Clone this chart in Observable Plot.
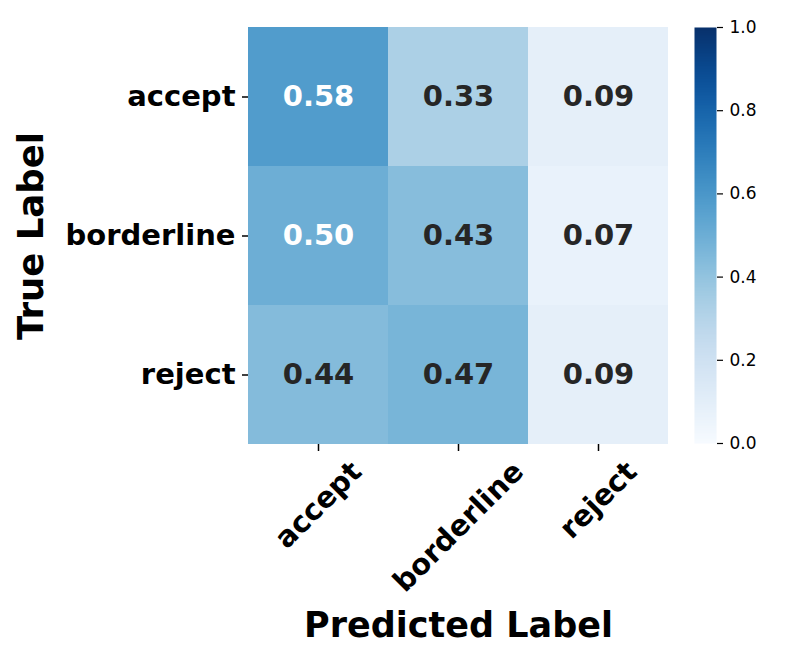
<!DOCTYPE html>
<html>
<head>
<meta charset="utf-8">
<script src="https://cdn.jsdelivr.net/npm/d3@7"></script>
<script src="https://cdn.jsdelivr.net/npm/@observablehq/plot@0.6"></script>
<style>
  html, body { margin: 0; padding: 0; background: #fff; }
  #wrap { position: relative; width: 793px; height: 661px; font-family: "DejaVu Sans", sans-serif; }
  #wrap svg { position: absolute; top: 0; }
</style>
</head>
<body>
<div id="wrap"></div>
<script>
// ---- data ----
const predictedLabels = ["accept", "borderline", "reject"];
const trueLabels = ["accept", "borderline", "reject"];
const rowAccept = [0.58, 0.33, 0.09];
const rowBorderline = [0.50, 0.43, 0.07];
const rowReject = [0.44, 0.47, 0.09];
const colorbarTicks = [0.0, 0.2, 0.4, 0.6, 0.8, 1.0];
const xTitle = "Predicted Label";
const yTitle = "True Label";

const rows = [rowAccept, rowBorderline, rowReject];
const table = [];
trueLabels.forEach((t, i) => predictedLabels.forEach((p, j) => table.push({truth: t, pred: p, value: rows[i][j]})));

const FONT = "DejaVu Sans";
function textColor(v) {
  const c = d3.rgb(d3.interpolateBlues(v));
  const lin = x => { x /= 255; return x <= 0.03928 ? x / 12.92 : Math.pow((x + 0.055) / 1.055, 2.4); };
  const lum = 0.2126 * lin(c.r) + 0.7152 * lin(c.g) + 0.0722 * lin(c.b);
  return lum > 0.408 ? "#262626" : "white";
}

// measure tick label widths for rotated x labels
const ctx = document.createElement("canvas").getContext("2d");
ctx.font = `bold 29px "${FONT}"`;

const xLabelMarks = predictedLabels.map(lbl => {
  const w = ctx.measureText(lbl).width;
  return Plot.text([lbl], {
    x: d => d, frameAnchor: "bottom", rotate: -45,
    textAnchor: "middle", lineAnchor: "middle",
    dy: 16 + (w + 18) * 0.3536,
    fontSize: 29, fontWeight: "bold", fill: "black"
  });
});

const main = Plot.plot({
  width: 793, height: 661,
  marginLeft: 248, marginRight: 125, marginTop: 27, marginBottom: 217,
  style: { fontFamily: FONT, background: "transparent" },
  x: { domain: predictedLabels, padding: 0, axis: null },
  y: { domain: trueLabels, padding: 0, axis: null },
  color: { type: "linear", scheme: "blues", domain: [0, 1] },
  marks: [
    Plot.cell(table, { x: "pred", y: "truth", fill: "value" }),
    Plot.text(table, {
      x: "pred", y: "truth", text: d => d.value.toFixed(2),
      fill: d => textColor(d.value), fontSize: 29, fontWeight: "bold", lineAnchor: "middle"
    }),
    Plot.axisY({ tickSize: 6, tickPadding: 7, strokeWidth: 1.5, fontSize: 29, fontWeight: "bold", label: null, color: "black" }),
    Plot.axisX({ tickSize: 7, strokeWidth: 1.5, text: null, label: null, color: "black" }),
    ...xLabelMarks,
    Plot.text([xTitle], { frameAnchor: "bottom", dy: 192, lineAnchor: "bottom", textAnchor: "middle", text: d => d, fontSize: 35, fontWeight: "bold", fill: "black" }),
    Plot.text([yTitle], { frameAnchor: "left", dx: -206, rotate: -90, lineAnchor: "bottom", textAnchor: "middle", text: d => d, fontSize: 35.5, fontWeight: "bold", fill: "black" })
  ]
});
main.style.left = "0px";

const colorbar = Plot.plot({
  width: 99, height: 661,
  marginLeft: 0, marginRight: 77, marginTop: 27, marginBottom: 218,
  style: { fontFamily: FONT, background: "transparent" },
  x: { domain: [0, 1], axis: null },
  y: { domain: [0, 1], axis: null },
  color: { type: "linear", scheme: "blues", domain: [0, 1] },
  marks: [
    Plot.raster({ x1: 0, x2: 1, y1: 0, y2: 1, fill: (x, y) => y, width: 4, height: 256, imageRendering: "auto" }),
    Plot.axisY({ anchor: "right", ticks: colorbarTicks, tickFormat: d3.format(".1f"), tickSize: 6, tickPadding: 7, strokeWidth: 1.2, fontSize: 17, label: null, color: "black" })
  ]
});
colorbar.style.left = "694px";

const wrap = document.getElementById("wrap");
wrap.appendChild(main);
wrap.appendChild(colorbar);
</script>
</body>
</html>
